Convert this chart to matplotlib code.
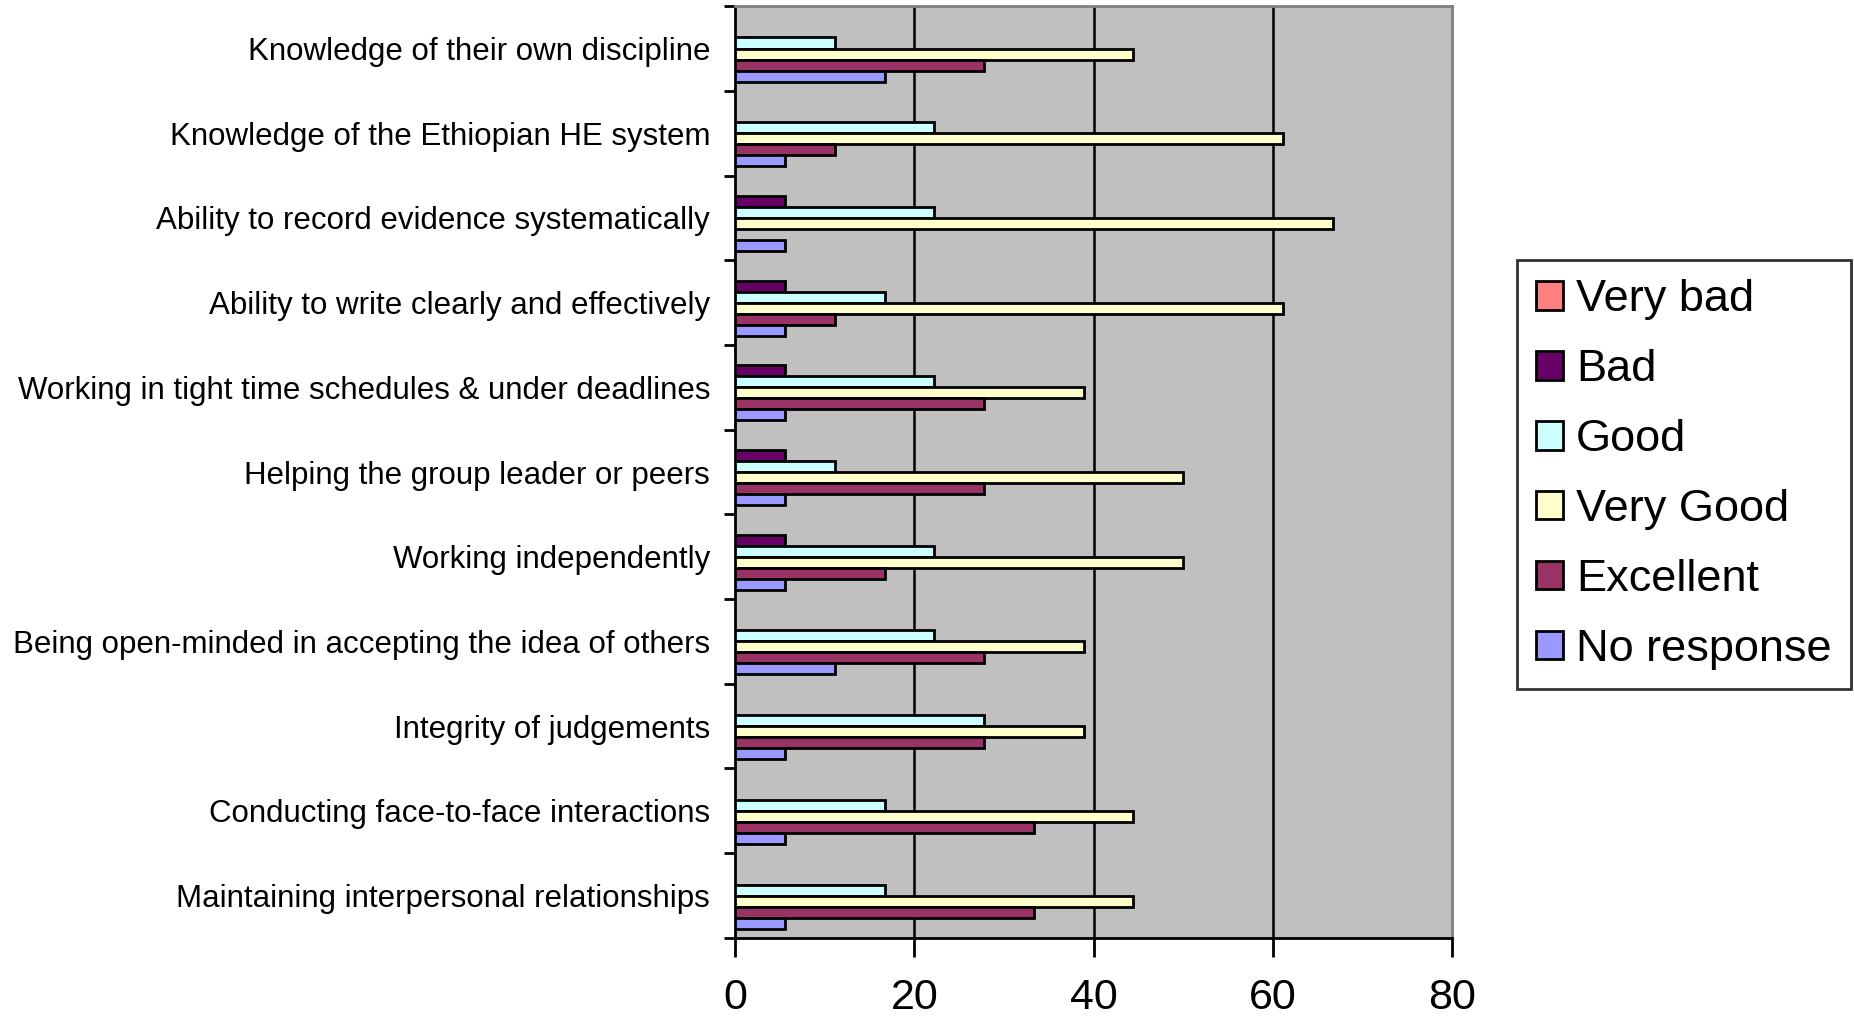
import numpy as np
import matplotlib
matplotlib.use("Agg")
import matplotlib.pyplot as plt
from matplotlib.patches import Patch

# categories, top to bottom
categories = [
    "Knowledge of their own discipline",
    "Knowledge of the Ethiopian HE system",
    "Ability to record evidence systematically",
    "Ability to write clearly and effectively",
    "Working in tight time schedules & under deadlines",
    "Helping the group leader or peers",
    "Working independently",
    "Being open-minded in accepting the idea of others",
    "Integrity of judgements",
    "Conducting face-to-face interactions",
    "Maintaining interpersonal relationships",
]

# percentages per rating
very_bad    = [0, 0, 0, 0, 0, 0, 0, 0, 0, 0, 0]
bad         = [0, 0, 5.56, 5.56, 5.56, 5.56, 5.56, 0, 0, 0, 0]
good        = [11.1, 22.2, 22.2, 16.7, 22.2, 11.1, 22.2, 22.2, 27.8, 16.7, 16.7]
very_good   = [44.4, 61.1, 66.7, 61.1, 38.9, 50.0, 50.0, 38.9, 38.9, 44.4, 44.4]
excellent   = [27.8, 11.1, 0, 11.1, 27.8, 27.8, 16.7, 27.8, 27.8, 33.3, 33.3]
no_response = [16.7, 5.56, 5.56, 5.56, 5.56, 5.56, 5.56, 11.1, 5.56, 5.56, 5.56]

series_names = ["Very bad", "Bad", "Good", "Very Good", "Excellent", "No response"]
series_vals = [very_bad, bad, good, very_good, excellent, no_response]
colors = ["#FF8080", "#660066", "#CCFFFF", "#FFFFCC", "#993366", "#9999FF"]

fig = plt.figure(figsize=(18.54, 10.25), dpi=100)
ax = fig.add_axes([0.3965, 0.085, 0.3868, 0.909])
ax.set_facecolor("#C0C0C0")

n = len(categories)
y = np.arange(n)
h = 0.13
for k, (vals, col) in enumerate(zip(series_vals, colors)):
    vals = np.array(vals, dtype=float)
    keep = vals > 0
    ax.barh(y[keep] + (k - 2.5) * h, vals[keep], height=h, color=col,
            edgecolor="black", linewidth=2, zorder=3)

ax.set_xlim(0, 80)
ax.set_ylim(n - 0.5, -0.5)

for gx in [20, 40, 60]:
    ax.axvline(gx, color="black", lw=1.8, zorder=1)

ax.set_xticks([0, 20, 40, 60, 80])
ax.set_xticklabels(["0", "20", "40", "60", "80"],
                   family=["Liberation Sans Narrow", "Liberation Sans"], fontsize=31)
ax.tick_params(axis="x", direction="out", length=14, width=2, pad=15)

ax.set_yticks(y)
ax.set_yticklabels(categories, family="Liberation Sans", fontsize=22.5)
ax.tick_params(axis="y", which="major", length=0, pad=18)
ax.set_yticks(np.arange(-0.5, n, 1.0), minor=True)
ax.tick_params(axis="y", which="minor", direction="out", length=8, width=2)

for s in ["left", "bottom"]:
    ax.spines[s].set_color("black")
    ax.spines[s].set_linewidth(2)
for s in ["top", "right"]:
    ax.spines[s].set_color("#808080")
    ax.spines[s].set_linewidth(2)

handles = [Patch(facecolor=c, edgecolor="black", linewidth=2) for c in colors]
leg = fig.legend(handles, series_names, loc="upper left",
                 bbox_to_anchor=(0.818, 0.746), frameon=True, fancybox=False,
                 prop={"family": "Liberation Sans", "size": 32.5},
                 handlelength=0.6, handleheight=0.6, handletextpad=0.3,
                 labelspacing=0.64, borderpad=0.42, borderaxespad=0)
leg.get_frame().set_edgecolor("black")
leg.get_frame().set_linewidth(2)

fig.savefig("out.png", dpi=100)
